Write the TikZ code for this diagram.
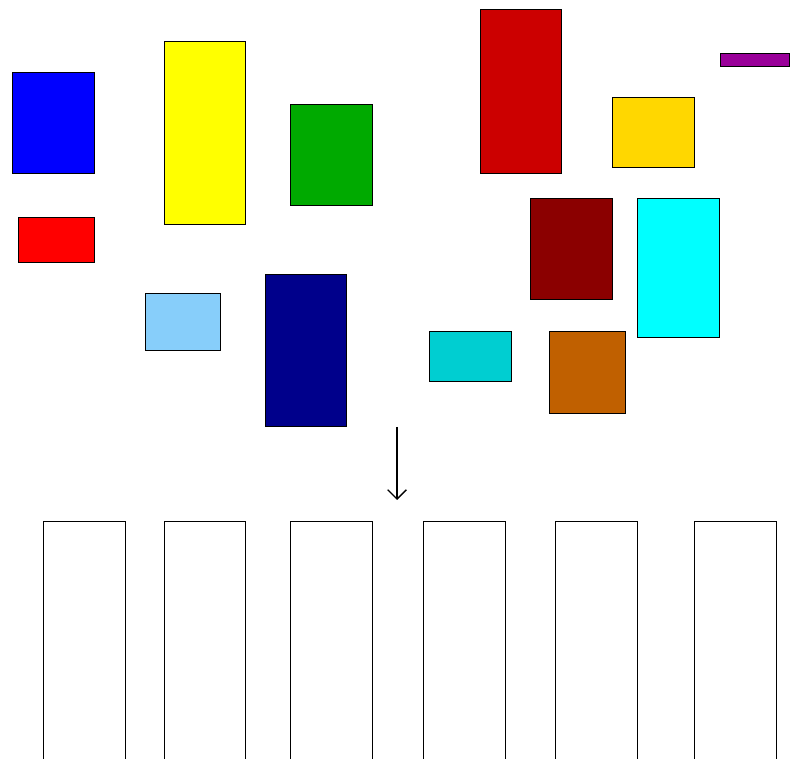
\documentclass[tikz,border=0pt]{standalone}
\usepackage{tikz}
\usepackage{xcolor}
\usetikzlibrary{arrows.meta}
\definecolor{PackBlue}{HTML}{0000FF}
\definecolor{PackYellow}{HTML}{FFFF00}
\definecolor{PackGreen}{HTML}{00AA00}
\definecolor{PackRed}{HTML}{FF0000}
\definecolor{PackSky}{HTML}{87CEFA}
\definecolor{PackNavy}{HTML}{00008B}
\definecolor{PackCrimson}{HTML}{CC0000}
\definecolor{PackPurple}{HTML}{990099}
\definecolor{PackGold}{HTML}{FFD700}
\definecolor{PackMaroon}{HTML}{8B0000}
\definecolor{PackCyan}{HTML}{00FFFF}
\definecolor{PackTurq}{HTML}{00CED1}
\definecolor{PackBrown}{HTML}{C06000}

\begin{document}
\begin{tikzpicture}[
      x=0.75pt,
      y=-0.75pt,
      item/.style={draw=black,line width=0.6pt},
      bin/.style={draw=black,line width=0.6pt},
      flow/.style={draw=black,line width=1pt,-{Straight Barb[length=7pt,width=14pt]}}
    ]
      \useasboundingbox (0,0) rectangle (790,759);
      % items waiting to be packed
      \draw[item,fill=PackBlue]    (12,72)   rectangle (94,173);
      \draw[item,fill=PackYellow]  (164,41)  rectangle (245,224);
      \draw[item,fill=PackGreen]   (290,104) rectangle (372,205);
      \draw[item,fill=PackRed]     (18,217)  rectangle (94,262);
      \draw[item,fill=PackSky]     (145,293) rectangle (220,350);
      \draw[item,fill=PackNavy]    (265,274) rectangle (346,426);
      \draw[item,fill=PackCrimson] (480,9)   rectangle (561,173);
      \draw[item,fill=PackPurple]  (720,53)  rectangle (789,66);
      \draw[item,fill=PackGold]    (612,97)  rectangle (694,167);
      \draw[item,fill=PackMaroon]  (530,198) rectangle (612,299);
      \draw[item,fill=PackCyan]    (637,198) rectangle (719,337);
      \draw[item,fill=PackTurq]    (429,331) rectangle (511,381);
      \draw[item,fill=PackBrown]   (549,331) rectangle (625,413);
      % arrow
      \coordinate (from) at (397,427);
      \coordinate (to) at (397,500);
      \draw[flow] (from) -- (to);
      % bins
      \foreach \bx/\bw in {43/82,164/81,290/82,423/82,555/82,694/82}
        \draw[bin] (\bx,762) -- (\bx,521) -- ++(\bw,0) -- ++(0,241);
    \end{tikzpicture}
\end{document}
